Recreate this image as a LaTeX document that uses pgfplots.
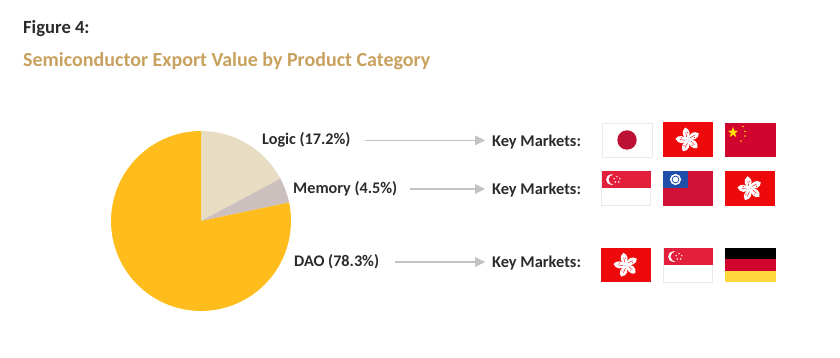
\documentclass[border=0pt]{standalone}
\usepackage{pgfplots}
\pgfplotsset{compat=1.18}
\usepackage{fontspec}
\setmainfont{Carlito}
\usetikzlibrary{calc}
\definecolor{ink}{HTML}{2B2B2B}
\definecolor{gold}{HTML}{C9A15F}
\definecolor{logicc}{HTML}{E8DCC3}
\definecolor{memc}{HTML}{CBC0BD}
\definecolor{daoc}{HTML}{FFBD1D}
\definecolor{arrowc}{HTML}{C2C2C2}
\definecolor{hkred}{HTML}{EE0A0A}
\definecolor{jpred}{HTML}{BC1035}
\definecolor{cnred}{HTML}{D1062E}
\definecolor{sgred}{HTML}{E3203C}
\definecolor{twred}{HTML}{CF1236}
\definecolor{twblue}{HTML}{1F4FA8}
\definecolor{deyel}{HTML}{FFD83D}
\definecolor{edgec}{HTML}{E9E9E9}
\newcommand{\arrowline}[3]{%
  \draw[arrowc,line width=1.5pt] (#1,#3) -- (#2-8,#3);
  \fill[arrowc] (#2,#3) -- (#2-10,#3-5) -- (#2-10,#3+5) -- cycle;}
\newcommand{\hk}[2]{%
  \fill[hkred] (#1,#2) rectangle ++(50,34.5);
  \begin{scope}[shift={(#1+25,#2+17.3)}]
  \foreach \a in {0,72,144,216,288}{%
    \begin{scope}[rotate=\a+8]
      \fill[white] (0,0) .. controls (-5.5,-3) and (-6,-9.5) .. (-1,-12.5)
        .. controls (3.5,-10.5) and (3.5,-4) .. (0,0) -- cycle;
      \draw[hkred,line width=0.45pt] (-1,-3) -- (-1.2,-8);
      \fill[hkred] (0.8,-7) circle (0.6);
    \end{scope}}
  \end{scope}}
\newcommand{\sg}[2]{%
  \fill[white] (#1,#2) rectangle ++(49,34.5);
  \draw[edgec,line width=0.7pt] (#1,#2) rectangle ++(49,34.5);
  \fill[sgred] (#1,#2) rectangle ++(49,17.2);
  \fill[white] (#1+10,#2+8.6) circle (5.4);
  \fill[sgred] (#1+12,#2+8.6) circle (4.9);
  \foreach \a in {-90,-18,54,126,198}{%
    \fill[white] ($(#1+15.5,#2+8.6)+(\a:3)$) circle (0.8);}
}
\begin{document}
\begin{tikzpicture}
\begin{axis}[at={(0,0)},anchor=south west,scale only axis,width=840pt,height=358pt,
  hide axis,clip=false,xmin=-201,xmax=639,ymin=-137,ymax=221]
\addplot[draw=none,fill=logicc,data cs=polar] coordinates {
 (0,0) (90,90) (85,90) (80,90) (75,90) (70,90) (65,90) (60,90) (55,90) (50,90)
 (45,90) (40,90) (35,90) (30,90) (28.08,90)} -- cycle;
\addplot[draw=none,fill=memc,data cs=polar] coordinates {
 (0,0) (28.08,90) (25,90) (20,90) (15,90) (11.88,90)} -- cycle;
\addplot[draw=none,fill=daoc,data cs=polar] coordinates {
 (0,0) (11.88,90) (10,90) (5,90) (0,90) (-5,90) (-10,90) (-15,90) (-20,90) (-25,90)
 (-30,90) (-35,90) (-40,90) (-45,90) (-50,90) (-55,90) (-60,90) (-65,90) (-70,90)
 (-75,90) (-80,90) (-85,90) (-90,90) (-95,90) (-100,90) (-105,90) (-110,90) (-115,90)
 (-120,90) (-125,90) (-130,90) (-135,90) (-140,90) (-145,90) (-150,90) (-155,90)
 (-160,90) (-165,90) (-170,90) (-175,90) (-180,90) (-185,90) (-190,90) (-195,90)
 (-200,90) (-205,90) (-210,90) (-215,90) (-220,90) (-225,90) (-230,90) (-235,90)
 (-240,90) (-245,90) (-250,90) (-255,90) (-260,90) (-265,90) (-270,90)} -- cycle;
\end{axis}
\path (0,0) rectangle (840pt,358pt);
\begin{scope}[x=1pt,y=-1pt,yshift=358pt]
\node[anchor=west,inner sep=0,text=ink,font=\fontsize{18.6}{18.6}\selectfont\bfseries] at (23,28.5) {Figure 4:};
\node[anchor=west,inner sep=0,text=gold,font=\fontsize{20}{20}\selectfont\bfseries] at (23,61.5) {Semiconductor Export Value by Product Category};
\foreach \x/\y/\t in {262/140/Logic (17.2\%),293/189/Memory (4.5\%),294/262/DAO (78.3\%)}
  \node[anchor=west,inner sep=0,text=ink,font=\fontsize{16.2}{16.2}\selectfont\bfseries] at (\x,\y) {\t};
\foreach \y in {142,190,263}
  \node[anchor=west,inner sep=0,text=ink,font=\fontsize{16.4}{16.4}\selectfont\bfseries] at (492,\y) {Key Markets:};
\arrowline{365}{485}{140.5}
\arrowline{410}{485}{189}
\arrowline{395}{485}{262}
\fill[white] (602,123) rectangle (652,157);
\draw[edgec,line width=0.7pt] (602,123) rectangle (652,157);
\fill[jpred] (627,140) circle (9.7);
\hk{663}{122.5}
\fill[cnred] (725,123) rectangle (776,157);
\fill[yellow!85!orange] (733,127) -- (734.3,130.7) -- (738.2,130.8) -- (735.1,133.2) -- (736.2,137) -- (733,134.8) -- (729.8,137) -- (730.9,133.2) -- (727.8,130.8) -- (731.7,130.7) -- cycle;
\fill[yellow!80!orange] (743,126.5) circle (0.9) (745,131.5) circle (0.8) (745,136) circle (0.8) (741,141) circle (0.8);
\sg{601.5}{171}
\fill[twred] (663,171) rectangle (713,206);
\fill[twblue] (663,171) rectangle (688,188);
\fill[white] (675.5,179.5) circle (5.6);
\fill[twblue] (675.5,179.5) circle (3.8);
\fill[white] (675.5,179.5) circle (2.8);
\hk{725}{171.3}
\hk{601}{247.8}
\sg{663.5}{248}
\fill[black] (725,248) rectangle (776,259.5);
\fill[cnred] (725,259.5) rectangle (776,271);
\fill[deyel] (725,271) rectangle (776,282.5);
\end{scope}
\end{tikzpicture}
\end{document}
